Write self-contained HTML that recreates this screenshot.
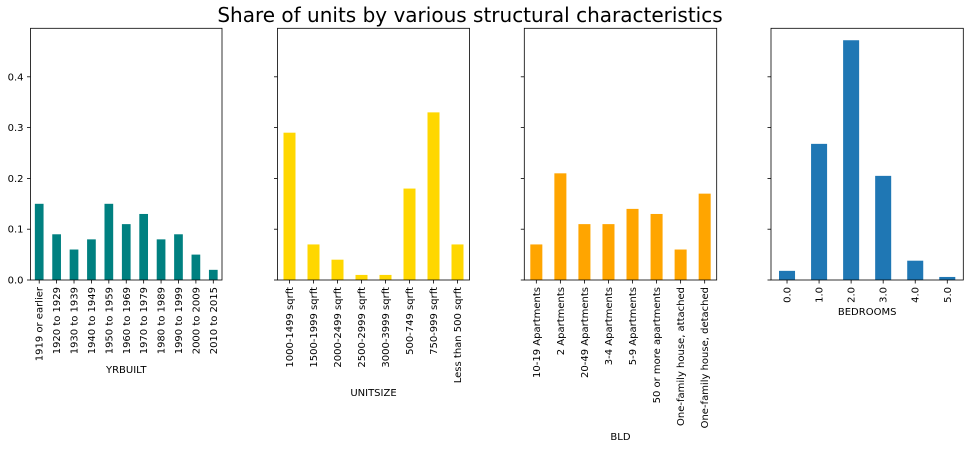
<!DOCTYPE html>
<html><head><meta charset="utf-8"><style>
body{margin:0;background:#fff}
svg{display:block;font-family:"DejaVu Sans","Liberation Sans",sans-serif}
</style></head><body>
<svg id="c" width="973" height="449">
<text x="470" y="22" font-size="20" text-anchor="middle" fill="#000">Share of units by various structural characteristics</text>
</svg>
<script>
const yrCats=["1919 or earlier","1920 to 1929","1930 to 1939","1940 to 1949","1950 to 1959","1960 to 1969","1970 to 1979","1980 to 1989","1990 to 1999","2000 to 2009","2010 to 2015"];
const yrVals=[0.15,0.09,0.06,0.08,0.15,0.11,0.13,0.08,0.09,0.05,0.02];
const sizeCats=["1000-1499 sqrft","1500-1999 sqrft","2000-2499 sqrft","2500-2999 sqrft","3000-3999 sqrft","500-749 sqrft","750-999 sqrft","Less than 500 sqrft"];
const sizeVals=[0.29,0.07,0.04,0.01,0.01,0.18,0.33,0.07];
const bldCats=["10-19 Apartments","2 Apartments","20-49 Apartments","3-4 Apartments","5-9 Apartments","50 or more apartments","One-family house, attached","One-family house, detached"];
const bldVals=[0.07,0.21,0.11,0.11,0.14,0.13,0.06,0.17];
const bedCats=["0.0","1.0","2.0","3.0","4.0","5.0"];
const bedVals=[0.018,0.268,0.472,0.205,0.038,0.006];
const yTicks=[0,0.1,0.2,0.3,0.4];
const yTickLabels=["0.0","0.1","0.2","0.3","0.4"];
const yMax=0.4955;
const NS="http://www.w3.org/2000/svg";
const svg=document.getElementById('c');
const top0=28.3,bot=280;
function y(v){return bot-(v/yMax)*(bot-top0);}
function mk(t,a){const e=document.createElementNS(NS,t);for(const k in a)e.setAttribute(k,a[k]);svg.appendChild(e);return e;}
const panels=[
 {cats:yrCats,vals:yrVals,color:"#008080",x0:30.5,x1:222,label:"YRBUILT",ly:373,name:"yrbuilt"},
 {cats:sizeCats,vals:sizeVals,color:"#ffd700",x0:277.5,x1:469.5,label:"UNITSIZE",ly:396,name:"unitsize"},
 {cats:bldCats,vals:bldVals,color:"#ffa500",x0:524.3,x1:716.7,label:"BLD",ly:440,name:"bld"},
 {cats:bedCats,vals:bedVals,color:"#1f77b4",x0:771,x1:963.3,label:"BEDROOMS",ly:315,name:"bedrooms"}
];
panels.forEach((p,pi)=>{
 const n=p.cats.length,w=(p.x1-p.x0)/n;
 function x(i){return p.x0+w*(i+0.5);}
 p.vals.forEach((v,i)=>{
  const r=mk('rect',{x:x(i)-w*0.25,y:y(v),width:w*0.5,height:bot-y(v),fill:p.color});
  
  
  const t=mk('line',{x1:x(i),x2:x(i),y1:bot,y2:bot+3.5,stroke:'#000','stroke-width':0.8});
  
  
  const tl=mk('text',{x:0,y:0,'font-size':10,'text-anchor':'end',transform:`translate(${x(i)+3.5},${bot+7}) rotate(-90)`,fill:'#000'});
  tl.textContent=p.cats[i];
  
  
 });
 yTicks.forEach((v,j)=>{
  const t=mk('line',{x1:p.x0-3.5,x2:p.x0,y1:y(v),y2:y(v),stroke:'#000','stroke-width':0.8});
  
  
  if(pi===0){
   const tl=mk('text',{x:p.x0-7,y:y(v)+3.5,'font-size':10,'text-anchor':'end',fill:'#000'});
   tl.textContent=yTickLabels[j];
   
   
  }
 });
 const fr=mk('rect',{x:p.x0,y:top0,width:p.x1-p.x0,height:bot-top0,fill:'none',stroke:'#000','stroke-width':0.8});
 
 
 const xl=mk('text',{x:(p.x0+p.x1)/2,y:p.ly,'font-size':10,'text-anchor':'middle',fill:'#000'});
 xl.textContent=p.label;
 
 
});
</script>
</body></html>
